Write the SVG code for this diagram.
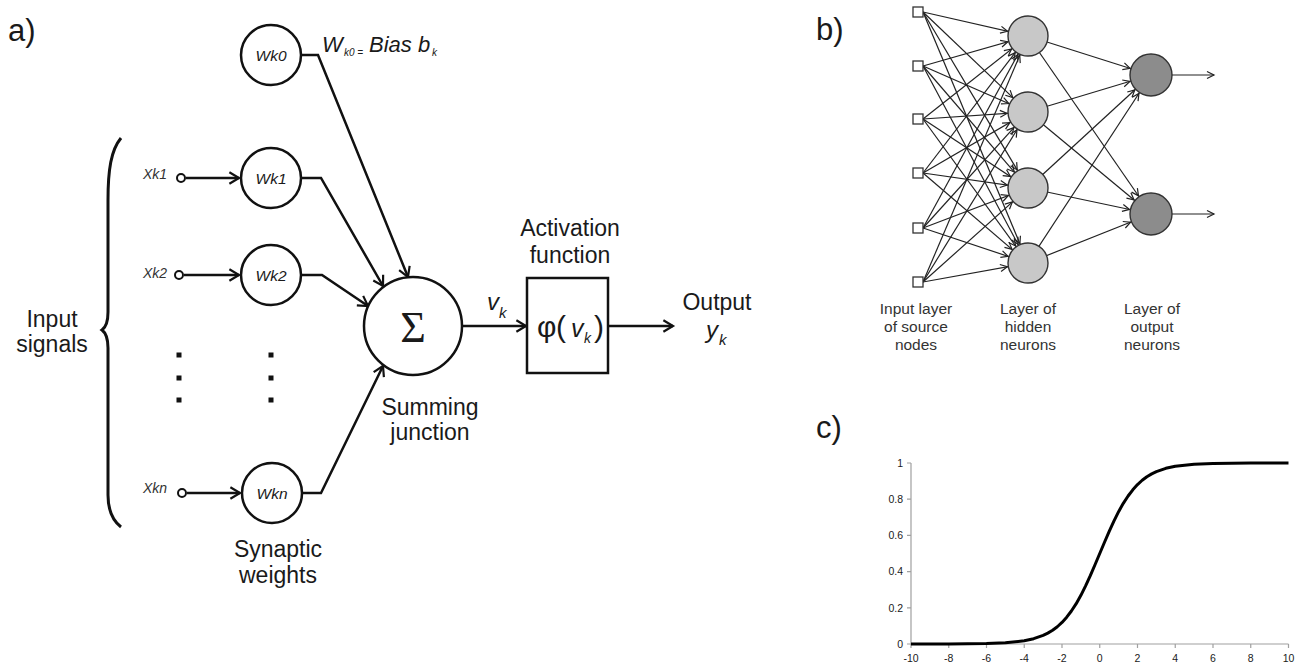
<svg xmlns="http://www.w3.org/2000/svg" width="1301" height="664" viewBox="0 0 1301 664">
<style>
text{font-family:"Liberation Sans",Arial,sans-serif;fill:#1a1a1a}
text.serif{font-family:"Liberation Serif","Times New Roman",serif}
.lbl{font-size:23px;text-anchor:middle}
.panel{font-size:31px}
.xin{font-size:14px;font-style:italic;fill:#333}
.w{font-size:15.5px;font-style:italic;text-anchor:middle}
.it{font-style:italic}
.conA{fill:none;stroke:#111;stroke-width:2.5;stroke-linejoin:miter}
.nodeA{fill:#fff;stroke:#111;stroke-width:2.5}
.conB{fill:none;stroke:#222;stroke-width:1.2}
.hid{fill:#c8c8c8;stroke:#333;stroke-width:1.4}
.out{fill:#8c8c8c;stroke:#333;stroke-width:1.4}
.sq{fill:#fff;stroke:#333;stroke-width:1.3}
.blbl{font-size:15.5px;text-anchor:middle;fill:#333}
.axis{stroke:#a0a0a0;stroke-width:1.2;fill:none}
.tick{font-size:10.5px;fill:#555}
</style>
<defs>
<marker id="arrA" markerUnits="userSpaceOnUse" markerWidth="14" markerHeight="14" refX="11" refY="0" viewBox="-2 -8 14 16" orient="auto" overflow="visible">
<path d="M0,-6.5 L11,0 L0,6.5" fill="none" stroke="#111" stroke-width="2.5"/>
</marker>
<marker id="arrH" markerUnits="userSpaceOnUse" markerWidth="10" markerHeight="10" refX="28" refY="0" viewBox="0 -5 10 10" orient="auto" overflow="visible">
<path d="M0,-3.5 L7,0 L0,3.5" fill="none" stroke="#222" stroke-width="1.2"/>
</marker>
<marker id="arrO" markerUnits="userSpaceOnUse" markerWidth="10" markerHeight="10" refX="29" refY="0" viewBox="0 -5 10 10" orient="auto" overflow="visible">
<path d="M0,-3.5 L7,0 L0,3.5" fill="none" stroke="#222" stroke-width="1.2"/>
</marker>
<marker id="arrE" markerUnits="userSpaceOnUse" markerWidth="10" markerHeight="10" refX="7" refY="0" viewBox="0 -5 10 10" orient="auto" overflow="visible">
<path d="M0,-3.5 L7,0 L0,3.5" fill="none" stroke="#222" stroke-width="1.2"/>
</marker>
</defs>
<rect width="1301" height="664" fill="#fff"/>

<!-- Panel labels -->
<text class="panel" x="8" y="41">a)</text>
<text class="panel" x="816" y="40">b)</text>
<text class="panel" x="816" y="438">c)</text>

<!-- ===== Panel a ===== -->
<g id="connectors-a">
<line class="conA" x1="186" y1="178" x2="239" y2="178" marker-end="url(#arrA)"/>
<line class="conA" x1="184" y1="275" x2="239" y2="275" marker-end="url(#arrA)"/>
<line class="conA" x1="187" y1="493" x2="240" y2="493" marker-end="url(#arrA)"/>
<polyline class="conA" points="301,55 318,55 408,277" marker-end="url(#arrA)"/>
<polyline class="conA" points="301,178 321,178 383,286" marker-end="url(#arrA)"/>
<polyline class="conA" points="301,275 322,275 368,306" marker-end="url(#arrA)"/>
<polyline class="conA" points="302,493 321,493 383,366" marker-end="url(#arrA)"/>
<line class="conA" x1="462" y1="326" x2="526" y2="326" marker-end="url(#arrA)"/>
<line class="conA" x1="608" y1="326" x2="673" y2="326" marker-end="url(#arrA)"/>
</g>

<g id="brace">
<path d="M121,138 C111,150 108,170 108,200 L108,312 C108,322 106,327 102,330 C106,333 108,338 108,348 L108,495 C108,510 112,520 121,527" fill="none" stroke="#111" stroke-width="3"/>
</g>
<g id="input-signals"><text class="lbl" x="52" y="327">Input</text><text class="lbl" x="52" y="352">signals</text></g>

<g id="x1"><circle cx="181" cy="178" r="4" fill="#fff" stroke="#111" stroke-width="2"/><text class="xin" x="143" y="179">Xk1</text></g>
<g id="x2"><circle cx="179" cy="275" r="4" fill="#fff" stroke="#111" stroke-width="2"/><text class="xin" x="143" y="278">Xk2</text></g>
<g id="xn"><circle cx="182" cy="493" r="4" fill="#fff" stroke="#111" stroke-width="2"/><text class="xin" x="143" y="493">Xkn</text></g>

<g id="w0"><circle class="nodeA" cx="271" cy="55" r="30"/><text class="w" x="271" y="61">Wk0</text></g>
<g id="w1"><circle class="nodeA" cx="271" cy="178" r="30"/><text class="w" x="271" y="184">Wk1</text></g>
<g id="w2"><circle class="nodeA" cx="271" cy="275" r="30"/><text class="w" x="271" y="281">Wk2</text></g>
<g id="wn"><circle class="nodeA" cx="272" cy="493" r="30"/><text class="w" x="272" y="499">Wkn</text></g>

<g id="bias-label">
<text class="it" x="322" y="52" font-size="22">W</text>
<text class="it" x="344" y="56" font-size="10">k0 =</text>
<text class="it" x="369" y="52" font-size="22">Bias b</text>
<text class="it" x="432" y="56" font-size="10">k</text>
</g>

<g id="dots" fill="#111">
<rect x="176.5" y="352.5" width="5" height="5"/><rect x="176.5" y="375.5" width="5" height="5"/><rect x="176.5" y="397.5" width="5" height="5"/>
<rect x="268.5" y="352.5" width="5" height="5"/><rect x="268.5" y="375.5" width="5" height="5"/><rect x="268.5" y="397.5" width="5" height="5"/>
</g>

<g id="sum"><circle class="nodeA" cx="413" cy="326" r="49"/><text class="serif" x="413" y="342" font-size="44" text-anchor="middle">Σ</text></g>
<g id="sum-label"><text class="lbl" x="430" y="415">Summing</text><text class="lbl" x="430" y="440">junction</text></g>
<g id="syn-label"><text class="lbl" x="278" y="557">Synaptic</text><text class="lbl" x="278" y="583">weights</text></g>

<g id="vk"><text class="it" x="487" y="310" font-size="24">v</text><text class="it" x="499" y="318" font-size="15">k</text></g>

<g id="activation">
<rect class="nodeA" x="527" y="278" width="81" height="95"/>
<text x="537" y="337" font-size="30">φ</text>
<text x="556" y="337" font-size="30">(</text>
<text class="it" x="571" y="337" font-size="25">v</text>
<text class="it" x="584" y="343" font-size="14">k</text>
<text x="594" y="337" font-size="30">)</text>
</g>
<g id="act-label"><text class="lbl" x="570" y="236">Activation</text><text class="lbl" x="570" y="263">function</text></g>
<g id="output"><text class="lbl" x="717" y="310">Output</text><text class="it" x="706" y="338" font-size="24">y</text><text class="it" x="719" y="345" font-size="15">k</text></g>

<!-- ===== Panel b ===== -->
<g id="connectors-b">
<line class="conB" x1="923" y1="12" x2="1028" y2="36" marker-end="url(#arrH)"/>
<line class="conB" x1="923" y1="12" x2="1028" y2="112" marker-end="url(#arrH)"/>
<line class="conB" x1="923" y1="12" x2="1028" y2="188" marker-end="url(#arrH)"/>
<line class="conB" x1="923" y1="12" x2="1028" y2="263" marker-end="url(#arrH)"/>
<line class="conB" x1="923" y1="66" x2="1028" y2="36" marker-end="url(#arrH)"/>
<line class="conB" x1="923" y1="66" x2="1028" y2="112" marker-end="url(#arrH)"/>
<line class="conB" x1="923" y1="66" x2="1028" y2="188" marker-end="url(#arrH)"/>
<line class="conB" x1="923" y1="66" x2="1028" y2="263" marker-end="url(#arrH)"/>
<line class="conB" x1="923" y1="119" x2="1028" y2="36" marker-end="url(#arrH)"/>
<line class="conB" x1="923" y1="119" x2="1028" y2="112" marker-end="url(#arrH)"/>
<line class="conB" x1="923" y1="119" x2="1028" y2="188" marker-end="url(#arrH)"/>
<line class="conB" x1="923" y1="119" x2="1028" y2="263" marker-end="url(#arrH)"/>
<line class="conB" x1="923" y1="173" x2="1028" y2="36" marker-end="url(#arrH)"/>
<line class="conB" x1="923" y1="173" x2="1028" y2="112" marker-end="url(#arrH)"/>
<line class="conB" x1="923" y1="173" x2="1028" y2="188" marker-end="url(#arrH)"/>
<line class="conB" x1="923" y1="173" x2="1028" y2="263" marker-end="url(#arrH)"/>
<line class="conB" x1="923" y1="228" x2="1028" y2="36" marker-end="url(#arrH)"/>
<line class="conB" x1="923" y1="228" x2="1028" y2="112" marker-end="url(#arrH)"/>
<line class="conB" x1="923" y1="228" x2="1028" y2="188" marker-end="url(#arrH)"/>
<line class="conB" x1="923" y1="228" x2="1028" y2="263" marker-end="url(#arrH)"/>
<line class="conB" x1="923" y1="282" x2="1028" y2="36" marker-end="url(#arrH)"/>
<line class="conB" x1="923" y1="282" x2="1028" y2="112" marker-end="url(#arrH)"/>
<line class="conB" x1="923" y1="282" x2="1028" y2="188" marker-end="url(#arrH)"/>
<line class="conB" x1="923" y1="282" x2="1028" y2="263" marker-end="url(#arrH)"/>
<line class="conB" x1="1028" y1="36" x2="1151" y2="75" marker-end="url(#arrO)"/>
<line class="conB" x1="1028" y1="36" x2="1151" y2="214" marker-end="url(#arrO)"/>
<line class="conB" x1="1028" y1="112" x2="1151" y2="75" marker-end="url(#arrO)"/>
<line class="conB" x1="1028" y1="112" x2="1151" y2="214" marker-end="url(#arrO)"/>
<line class="conB" x1="1028" y1="188" x2="1151" y2="75" marker-end="url(#arrO)"/>
<line class="conB" x1="1028" y1="188" x2="1151" y2="214" marker-end="url(#arrO)"/>
<line class="conB" x1="1028" y1="263" x2="1151" y2="75" marker-end="url(#arrO)"/>
<line class="conB" x1="1028" y1="263" x2="1151" y2="214" marker-end="url(#arrO)"/>
<line class="conB" x1="1172" y1="75" x2="1214" y2="75" marker-end="url(#arrE)"/>
<line class="conB" x1="1172" y1="214" x2="1214" y2="214" marker-end="url(#arrE)"/>
</g>
<g id="in1"><rect class="sq" x="913" y="7" width="10" height="10"/></g>
<g id="in2"><rect class="sq" x="913" y="61" width="10" height="10"/></g>
<g id="in3"><rect class="sq" x="913" y="114" width="10" height="10"/></g>
<g id="in4"><rect class="sq" x="913" y="168" width="10" height="10"/></g>
<g id="in5"><rect class="sq" x="913" y="223" width="10" height="10"/></g>
<g id="in6"><rect class="sq" x="913" y="277" width="10" height="10"/></g>
<g id="h1"><circle class="hid" cx="1028" cy="36" r="20"/></g>
<g id="h2"><circle class="hid" cx="1028" cy="112" r="20"/></g>
<g id="h3"><circle class="hid" cx="1028" cy="188" r="20"/></g>
<g id="h4"><circle class="hid" cx="1028" cy="263" r="20"/></g>
<g id="o1"><circle class="out" cx="1151" cy="75" r="21"/></g>
<g id="o2"><circle class="out" cx="1151" cy="214" r="21"/></g>
<g id="b-labels">
<text class="blbl" x="916" y="314">Input layer</text><text class="blbl" x="916" y="332">of source</text><text class="blbl" x="916" y="350">nodes</text>
<text class="blbl" x="1028" y="314">Layer of</text><text class="blbl" x="1028" y="332">hidden</text><text class="blbl" x="1028" y="350">neurons</text>
<text class="blbl" x="1152" y="314">Layer of</text><text class="blbl" x="1152" y="332">output</text><text class="blbl" x="1152" y="350">neurons</text>
</g>

<!-- ===== Panel c ===== -->
<g id="chart">
<path class="axis" d="M911,463 L911,644 L1288.5,644"/>
<path class="axis" d="M907,463 H911 M907,499.2 H911 M907,535.4 H911 M907,571.6 H911 M907,607.8 H911 M907,644 H911"/>
<path class="axis" d="M911,644 V648 M948.75,644 V648 M986.5,644 V648 M1024.25,644 V648 M1062,644 V648 M1099.75,644 V648 M1137.5,644 V648 M1175.25,644 V648 M1213,644 V648 M1250.75,644 V648 M1288.5,644 V648"/>
<g class="tick" text-anchor="end">
<text x="903" y="467">1</text><text x="903" y="503">0.8</text><text x="903" y="539">0.6</text><text x="903" y="575">0.4</text><text x="903" y="612">0.2</text><text x="903" y="648">0</text>
</g>
<g class="tick" text-anchor="middle">
<text x="911" y="662">-10</text><text x="948.75" y="662">-8</text><text x="986.5" y="662">-6</text><text x="1024.25" y="662">-4</text><text x="1062" y="662">-2</text><text x="1099.75" y="662">0</text><text x="1137.5" y="662">2</text><text x="1175.25" y="662">4</text><text x="1213" y="662">6</text><text x="1250.75" y="662">8</text><text x="1288.5" y="662">10</text>
</g>
<polyline fill="none" stroke="#000" stroke-width="3" stroke-linejoin="round" points="911,644 948.75,643.94 986.5,643.55 1005.4,642.79 1024.25,640.74 1033.7,638.69 1043.1,635.42 1047.8,633.12 1052.6,630.27 1057.3,626.74 1062,622.43 1066.7,617.2 1071.4,611 1076.2,603.69 1080.9,595.33 1085.6,585.93 1090.3,575.67 1095,564.75 1099.75,553.5 1104.5,542.25 1109.2,531.33 1113.9,521.07 1118.6,511.67 1123.3,503.31 1128.1,496 1132.8,489.8 1137.5,484.57 1142.2,480.26 1146.9,476.74 1151.7,473.88 1156.4,471.58 1165.8,468.3 1175.25,466.26 1194.1,464.21 1213,463.45 1250.75,463.06 1288.5,463"/>
</g>
</svg>
